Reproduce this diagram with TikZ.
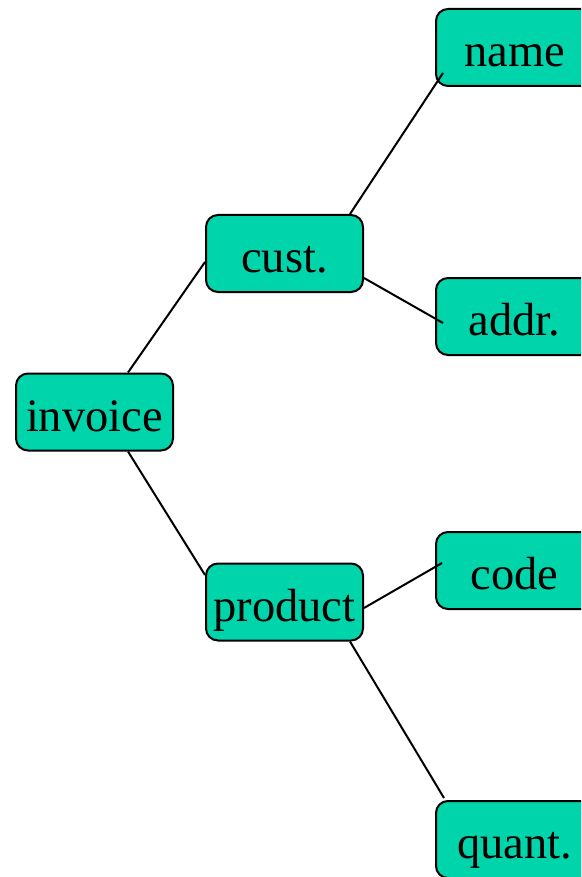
\documentclass[tikz,border=0pt]{standalone}
\usepackage{fontspec}
\setmainfont{Liberation Serif}
\usetikzlibrary{calc}
\definecolor{boxfill}{RGB}{0,212,170}
\tikzset{
  treebox/.style={draw=black, line width=2pt, fill=boxfill, rounded corners=12pt,
    minimum width=157pt, minimum height=77pt, inner sep=0pt,
    text height=38pt, text depth=0pt,
    font=\fontsize{46.5}{50}\selectfont},
  link/.style={draw=black, line width=2pt}
}
\begin{document}
\begin{tikzpicture}[x=1pt,y=-1pt]
  \clip (0,0) rectangle (581,877);
  % tree nodes
  \node[treebox] (invoice) at (94.5,412) {invoice};
  \node[treebox] (cust)    at (284.5,253.5) {cust.};
  \node[treebox] (product) at (284.5,602) {product};
  \node[treebox] (name)    at (514.5,47.5) {name};
  \node[treebox] (addr)    at (514.5,316.5) {addr.};
  \node[treebox] (code)    at (514.5,570.5) {code};
  \node[treebox] (quant)   at (514.5,839.5) {quant.};
  % branches
  \draw[link] ($(invoice.north)+(33.5,0)$) -- ($(cust.west)+(0,8.5)$);
  \draw[link] ($(invoice.south)+(33.5,0)$) -- ($(product.west)+(0,-27)$);
  \draw[link] ($(cust.north)+(65.5,0)$) -- ($(name.west)+(8,25.5)$);
  \draw[link] ($(cust.east)+(0,24.5)$) -- ($(addr.west)+(8,6.5)$);
  \draw[link] ($(product.east)+(0,6)$) -- ($(code.west)+(7,-7.5)$);
  \draw[link] ($(product.south)+(65.5,0)$) -- ($(quant.north west)+(9,-2)$);
\end{tikzpicture}
\end{document}
